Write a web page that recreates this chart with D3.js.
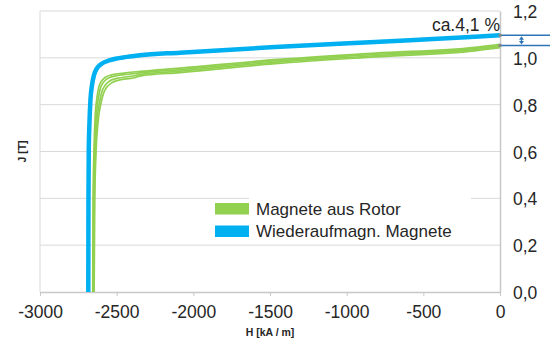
<!DOCTYPE html>
<html>
<head>
<meta charset="utf-8">
<script src="https://cdn.jsdelivr.net/npm/d3@7"></script>
<style>
  html, body { margin: 0; padding: 0; background: #fff; }
  svg { display: block; font-family: "Liberation Sans", Arial, sans-serif; }
</style>
</head>
<body>
<svg id="chart" width="550" height="341"></svg>
<script>
// Demagnetisation curves J(H): magnets taken from the rotor vs. re-magnetised magnets
const xTicks = [-3000, -2500, -2000, -1500, -1000, -500, 0];
const yTicks = [0, 0.2, 0.4, 0.6, 0.8, 1.0, 1.2];

// Re-magnetised magnets (blue)
const blueH = [-2685, -2684, -2682, -2677, -2671, -2661, -2648, -2628, -2602, -2543, -2433, -2348, -2087, -1467, -815, -163, 0];
const blueJ = [0, 0.39, 0.605, 0.73, 0.82, 0.883, 0.926, 0.956, 0.973, 0.99, 1.004, 1.011, 1.022, 1.046, 1.068, 1.090, 1.096];

// Magnets taken out of the rotor (green, four samples)
const greenAH = [-2656, -2654, -2648, -2641, -2628, -2617, -2601, -2578, -2535, -2440, -2348, -2087, -1467, -815, -163, 0];
const greenAJ = [0, 0.39, 0.605, 0.74, 0.832, 0.874, 0.899, 0.915, 0.927, 0.936, 0.942, 0.956, 0.992, 1.020, 1.045, 1.058];
const greenBH = [-2653, -2650, -2644, -2635, -2620, -2608, -2590, -2565, -2520, -2425, -2348, -2087, -1467, -815, -163, 0];
const greenBJ = [0, 0.39, 0.605, 0.735, 0.825, 0.866, 0.892, 0.909, 0.921, 0.930, 0.936, 0.950, 0.987, 1.015, 1.040, 1.053];
const greenCH = [-2650, -2646, -2638, -2628, -2610, -2596, -2576, -2548, -2500, -2405, -2348, -2087, -1467, -815, -163, 0];
const greenCJ = [0, 0.39, 0.605, 0.728, 0.815, 0.856, 0.882, 0.900, 0.912, 0.921, 0.928, 0.943, 0.981, 1.009, 1.035, 1.048];
const greenDH = [-2647, -2643, -2634, -2622, -2602, -2586, -2565, -2535, -2485, -2390, -2348, -2087, -1467, -815, -163, 0];
const greenDJ = [0, 0.39, 0.605, 0.722, 0.807, 0.848, 0.874, 0.892, 0.905, 0.914, 0.922, 0.937, 0.975, 1.004, 1.030, 1.043];

const legendLabels = ["Magnete aus Rotor", "Wiederaufmagn. Magnete"];
const annotationText = "ca.4,1 %";

const GREEN = "#92d050", BLUE = "#00b0f0", ARROW = "#2e75b6";

const svg = d3.select("#chart");
const pLeft = 40, pRight = 500, pTop = 11, pBottom = 292;

const x = d3.scaleLinear().domain([-3000, 0]).range([pLeft, pRight]);
const y = d3.scaleLinear().domain([0, 1.2]).range([pBottom, pTop]);

const loc = d3.formatLocale({ decimal: ",", thousands: ".", grouping: [3], currency: ["", "€"], minus: "-" });
const fmtX = loc.format("d");
const fmtY = loc.format(".1f");

// horizontal grid
svg.append("g").selectAll("line")
  .data(yTicks.filter(d => d > 0))
  .join("line")
  .attr("x1", pLeft).attr("x2", pRight)
  .attr("y1", d => y(d)).attr("y2", d => y(d))
  .attr("stroke", "#d9d9d9").attr("stroke-width", 1);

// left border
svg.append("line")
  .attr("x1", pLeft).attr("x2", pLeft).attr("y1", pTop).attr("y2", pBottom)
  .attr("stroke", "#d9d9d9");

// bottom axis
const gx = svg.append("g")
  .attr("transform", `translate(0,${pBottom})`)
  .call(d3.axisBottom(x).tickValues(xTicks).tickFormat(fmtX).tickSize(4).tickPadding(10).tickSizeOuter(0));
gx.select(".domain").attr("stroke", "#c8c8c8").attr("stroke-width", 1.5);
gx.selectAll(".tick line").attr("stroke", "#c8c8c8");
gx.selectAll(".tick text").attr("font-size", 17.5).attr("fill", "#262626")
  .attr("font-family", "Liberation Sans, Arial, sans-serif");

// right axis
const gy = svg.append("g")
  .attr("transform", `translate(${pRight},0)`)
  .call(d3.axisRight(y).tickValues(yTicks).tickFormat(fmtY).tickSize(0).tickPadding(13).tickSizeOuter(0));
gy.select(".domain").attr("stroke", "#c8c8c8").attr("stroke-width", 1.5);
gy.selectAll(".tick text").attr("font-size", 17.5).attr("fill", "#262626").attr("dy", "0.38em")
  .attr("font-family", "Liberation Sans, Arial, sans-serif");

// axis titles
svg.append("text")
  .attr("x", (pLeft + pRight) / 2).attr("y", 336)
  .attr("text-anchor", "middle").attr("font-size", 10.5).attr("font-weight", "bold").attr("fill", "#262626")
  .text("H [kA / m]");
svg.append("text")
  .attr("transform", `translate(26,${(pTop + pBottom) / 2}) rotate(-90)`)
  .attr("text-anchor", "middle").attr("font-size", 10.5).attr("font-weight", "bold").attr("fill", "#262626")
  .text("J [T]");

// curves
const line = d3.line().x(d => x(d[0])).y(d => y(d[1])).curve(d3.curveMonotoneX);
const zip = (hs, js) => hs.map((h, i) => [h, js[i]]);

const greens = [[greenAH, greenAJ], [greenBH, greenBJ], [greenCH, greenCJ], [greenDH, greenDJ]];
svg.append("g").selectAll("path")
  .data(greens.map(([h, j]) => zip(h, j)))
  .join("path")
  .attr("d", line)
  .attr("fill", "none").attr("stroke", GREEN).attr("stroke-width", 1.7);

svg.append("path")
  .attr("d", line(zip(blueH, blueJ)))
  .attr("fill", "none").attr("stroke", BLUE).attr("stroke-width", 4.5);

// legend
svg.append("rect").attr("x", 249).attr("y", 192).attr("width", 222).attr("height", 49).attr("fill", "#fff");
const lg = svg.append("g");
[GREEN, BLUE].forEach((c, i) => {
  lg.append("rect").attr("x", 215).attr("y", 203 + i * 22.5).attr("width", 34).attr("height", 11.5).attr("fill", c);
  lg.append("text").attr("x", 256).attr("y", 215 + i * 21.5)
    .attr("font-size", 17).attr("fill", "#262626").text(legendLabels[i]);
});

// difference annotation at H = 0
const jBlue0 = blueJ[blueJ.length - 1];
const jGreen0 = greenBJ[greenBJ.length - 1];
const ann = svg.append("g");
[jBlue0, jGreen0].forEach(v => {
  ann.append("line").attr("x1", pRight).attr("x2", 550).attr("y1", y(v)).attr("y2", y(v))
    .attr("stroke", ARROW).attr("stroke-width", 1.5);
  ann.append("rect").attr("x", pRight - 1.5).attr("y", y(v) - 1.5).attr("width", 3).attr("height", 3).attr("fill", "#888");
});
const ax = 521.5, ya = y(jBlue0) + 1, yb = y(jGreen0) - 1;
ann.append("line").attr("x1", ax).attr("x2", ax).attr("y1", ya + 2).attr("y2", yb - 2)
  .attr("stroke", ARROW).attr("stroke-width", 1.3);
ann.append("path").attr("d", `M${ax - 2.5},${ya + 3.5}L${ax},${ya}L${ax + 2.5},${ya + 3.5}Z`).attr("fill", ARROW);
ann.append("path").attr("d", `M${ax - 2.5},${yb - 3.5}L${ax},${yb}L${ax + 2.5},${yb - 3.5}Z`).attr("fill", ARROW);
ann.append("text").attr("x", 500).attr("y", 30.5).attr("text-anchor", "end")
  .attr("font-size", 17.5).attr("fill", "#262626").text(annotationText);
</script>
</body>
</html>
